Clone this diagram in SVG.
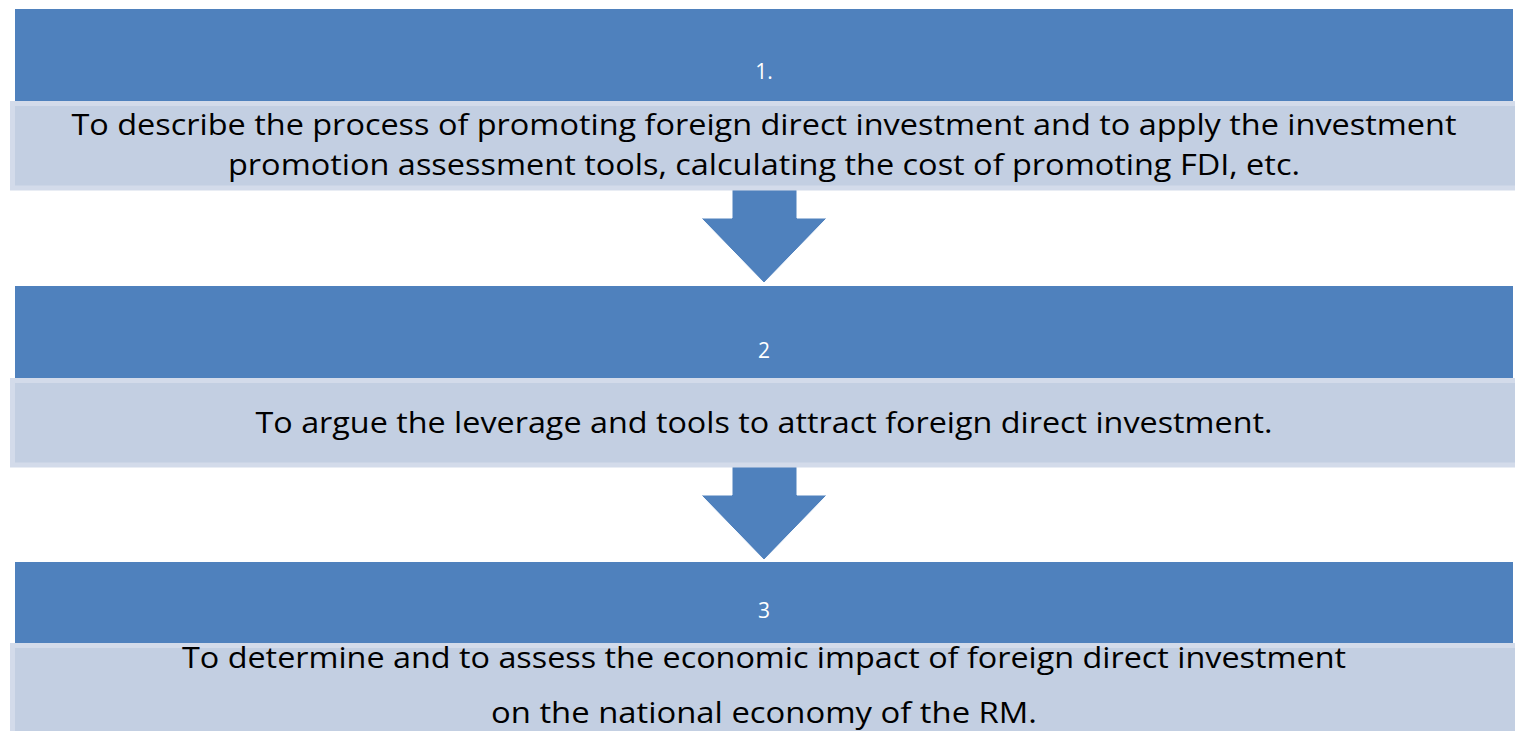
<svg xmlns="http://www.w3.org/2000/svg" width="1515" height="731" viewBox="0 0 1515 731">
  <style>
    .head { fill: #4F81BD; }
    .body { fill: #C3CFE2; stroke: #D3DBEA; stroke-width: 5; }
    .num { font-family: "Open Sans", "Liberation Sans", sans-serif; font-size: 21px; fill: #FFFFFF; text-anchor: middle; }
    .txt { font-family: "Open Sans", "Liberation Sans", sans-serif; font-size: 30px; fill: #000000; text-anchor: middle; }
    .arrow { fill: #4F81BD; stroke: #FFFFFF; stroke-width: 1; }
  </style>
  <rect width="1515" height="731" fill="#FFFFFF"/>

  <g id="connectors">
    <polygon class="arrow" points="732,186 797,186 797,218 827,218 764,283 701,218 732,218"/>
    <polygon class="arrow" points="732,464 797,464 797,495 827,495 764,560 701,495 732,495"/>
  </g>

  <g id="step1">
    <rect class="head" x="15" y="9" width="1498" height="92"/>
    <text class="num" x="764" y="79">1.</text>
    <rect class="body" x="12.5" y="103.5" width="1505" height="84.5"/>
    <text class="txt" x="764" y="135" textLength="1385" lengthAdjust="spacingAndGlyphs">To describe the process of promoting foreign direct investment and to apply the investment</text>
    <text class="txt" x="764" y="175" textLength="1072" lengthAdjust="spacingAndGlyphs">promotion assessment tools, calculating the cost of promoting FDI, etc.</text>
  </g>

  <g id="step2">
    <rect class="head" x="15" y="286" width="1498" height="92"/>
    <text class="num" x="764" y="358">2</text>
    <rect class="body" x="12.5" y="380.5" width="1505" height="84.5"/>
    <text class="txt" x="764" y="433" textLength="1017" lengthAdjust="spacingAndGlyphs">To argue the leverage and tools to attract foreign direct investment.</text>
  </g>

  <g id="step3">
    <rect class="head" x="15" y="562" width="1498" height="81"/>
    <text class="num" x="764" y="618">3</text>
    <rect class="body" x="12.5" y="645.5" width="1505" height="90"/>
    <text class="txt" x="764" y="668" textLength="1164" lengthAdjust="spacingAndGlyphs">To determine and to assess the economic impact of foreign direct investment</text>
    <text class="txt" x="764" y="723" textLength="546" lengthAdjust="spacingAndGlyphs">on the national economy of the RM.</text>
  </g>
</svg>
